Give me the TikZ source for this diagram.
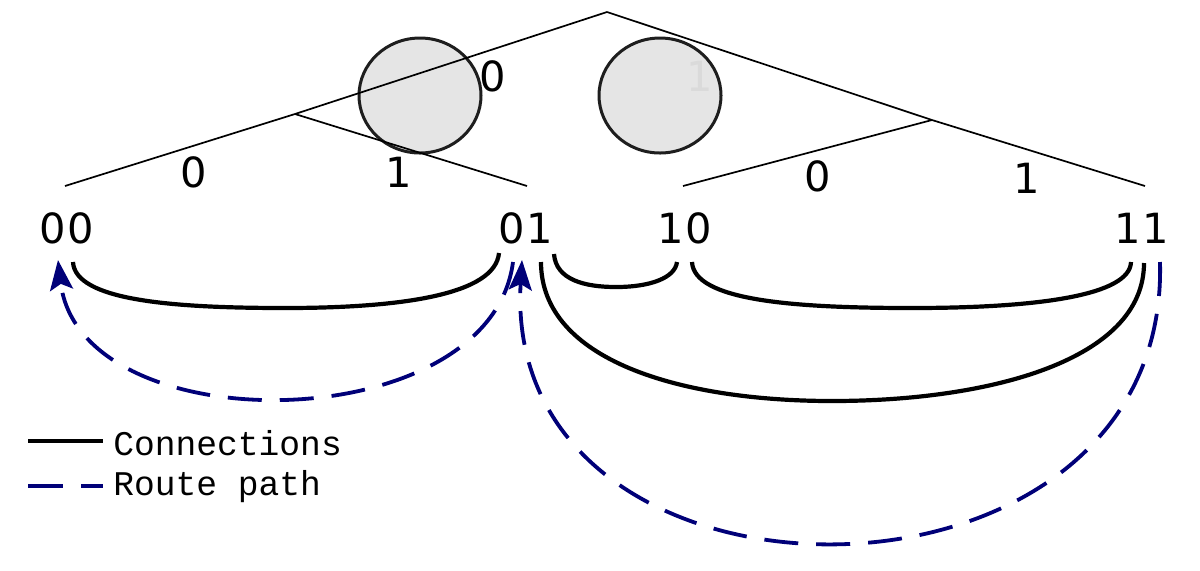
\documentclass[tikz,border=0pt]{standalone}
\usepackage{fontspec}
\newfontfamily\labfont{DejaVu Sans}
\newfontfamily\legfont{Liberation Mono}
\usetikzlibrary{arrows.meta,shapes.geometric}
\definecolor{routeblue}{RGB}{0,0,120}
\definecolor{lightone}{RGB}{218,218,218}
\begin{document}
\begin{tikzpicture}[x=0.5pt,y=-0.5pt,
  treeline/.style={line width=0.85pt,black},
  bubble/.style={draw={rgb,255:red,30;green,30;blue,30},line width=1.5pt,fill=black!10},
  lab/.style={font=\labfont\fontsize{20.8}{24}\selectfont,inner sep=0pt},
  leg/.style={font=\legfont\fontsize{17.3}{20}\selectfont,inner sep=0pt,anchor=west},
  conn/.style={line width=2.1pt,black},
  route/.style={line width=1.9pt,routeblue,dash pattern=on 17pt off 9pt},
  routearrow/.style={route,-{Stealth[length=15pt,width=11.5pt,inset=3pt]}}]
\useasboundingbox (0,0) rectangle (1200,570);
% circles
\node[bubble,ellipse,minimum width=61pt,minimum height=57.5pt,inner sep=0pt] (c1) at (420,95.5) {};
\node[bubble,ellipse,minimum width=61pt,minimum height=57.5pt,inner sep=0pt] (c2) at (660,95.5) {};
% tree
\coordinate (root) at (607,12);
\coordinate (nL) at (295,114);
\coordinate (nR) at (932,120);
\coordinate (t00) at (65,186);
\coordinate (t01) at (527,186);
\coordinate (t10) at (683,186);
\coordinate (t11) at (1145,186);
\draw[treeline] (root) -- (nL) -- (t00);
\draw[treeline] (nL) -- (t01);
\draw[treeline] (root) -- (nR) -- (t11);
\draw[treeline] (nR) -- (t10);
% edge labels
\node[lab] (e0) at (493,76) {0};
\node[lab,text=lightone] (e1) at (700,76) {1};
\node[lab] (e00) at (194,172) {0};
\node[lab] (e01) at (399,172) {1};
\node[lab] (e10) at (818,176) {0};
\node[lab] (e11) at (1027,178) {1};
% leaf labels
\node[lab] (l00) at (67,228) {0\kern1pt0};
\node[lab] (l01) at (526,228) {0\kern1pt1};
\node[lab] (l10) at (685,228) {1\kern1pt0};
\node[lab] (l11) at (1142,228) {1\kern1pt1};
% connection end points
\coordinate (a00) at (73,262);
\coordinate (a01l) at (499,253);
\coordinate (a01r) at (554,254);
\coordinate (a01b) at (541,262);
\coordinate (a10l) at (677,262);
\coordinate (a10r) at (692,262);
\coordinate (a11l) at (1131,262);
\coordinate (a11b) at (1144,263);
\coordinate (m1) at (285,308);
\coordinate (m2) at (616,287);
\coordinate (m3) at (912,308);
\coordinate (m4) at (832,401);
% connections
\draw[conn] (a00) .. controls (75,300) and (170,308) .. (m1) .. controls (400,308) and (495,295) .. (a01l);
\draw[conn] (a01r) .. controls (556,280) and (585,287) .. (m2) .. controls (650,287) and (675,278) .. (a10l);
\draw[conn] (a10r) .. controls (694,300) and (790,308) .. (m3) .. controls (1040,308) and (1130,295) .. (a11l);
\draw[conn] (a01b) .. controls (541,360) and (680,401) .. (m4) .. controls (990,401) and (1144,360) .. (a11b);
% route paths
\coordinate (r1s) at (513,262);
\coordinate (r1e) at (58,260);
\coordinate (r2s) at (1160,262);
\coordinate (r2e) at (522,260);
\draw[routearrow] (r1s) .. controls (490,440) and (80,445) .. (r1e);
\draw[routearrow] (r2s) .. controls (1170,635) and (500,635) .. (r2e);
% legend
\coordinate (lg1a) at (28,441);
\coordinate (lg1b) at (103,441);
\coordinate (lg2a) at (28,486);
\coordinate (lg2b) at (103,486);
\draw[conn] (lg1a) -- (lg1b);
\draw[route,dash pattern=on 17.5pt off 9pt] (lg2a) -- (lg2b);
\node[leg] (t1) at (113,443) {Connections};
\node[leg] (t2) at (113,487) {Route path};
\end{tikzpicture}
\end{document}
